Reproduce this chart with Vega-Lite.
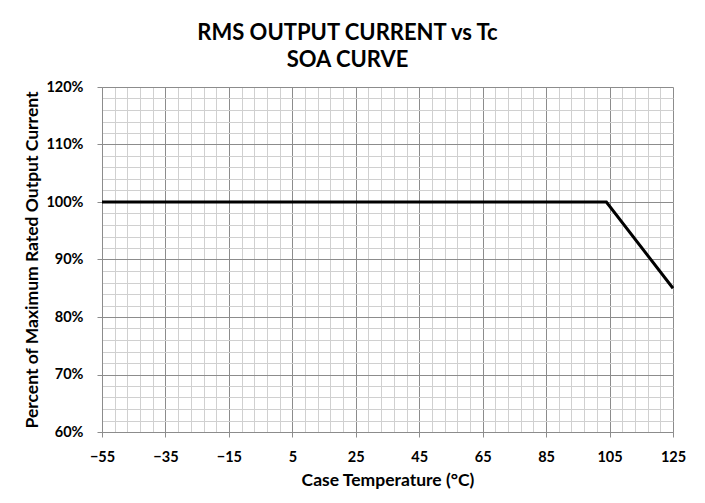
{
  "$schema": "https://vega.github.io/schema/vega-lite/v6.json",
  "width": 571,
  "height": 345,
  "autosize": "none",
  "padding": {"left": 102, "top": 87, "right": 32, "bottom": 71},
  "background": "white",
  "config": {
    "font": "Lato",
    "view": {"stroke": null},
    "axis": {"labelFont": "Lato", "titleFont": "Lato"}
  },
  "title": {
    "text": ["RMS OUTPUT CURRENT vs Tc", "SOA CURVE"],
    "font": "Lato",
    "fontSize": 22,
    "fontWeight": "bold",
    "color": "#000000",
    "anchor": "middle",
    "baseline": "alphabetic",
    "lineHeight": 27,
    "offset": 20,
    "dx": -40,
    "dy": 30
  },
  "data": {
    "values": [
      {"temp": -55, "pct": 1.0},
      {"temp": 104, "pct": 1.0},
      {"temp": 125, "pct": 0.85}
    ]
  },
  "layer": [
    {
      "mark": {"type": "line", "strokeOpacity": 0},
      "encoding": {
        "x": {
          "field": "temp", "type": "quantitative",
          "scale": {"domain": [-55, 125], "nice": false, "zero": false},
          "axis": {
            "orient": "bottom",
            "values": [-55,-51,-47,-43,-39,-35,-31,-27,-23,-19,-15,-11,-7,-3,1,5,9,13,17,21,25,29,33,37,41,45,49,53,57,61,65,69,73,77,81,85,89,93,97,101,105,109,113,117,121,125],
            "grid": true, "gridColor": "#d0d0d0", "gridWidth": 1, "gridOpacity": 1,
            "labels": false, "ticks": false, "domain": false, "title": null
          }
        },
        "y": {
          "field": "pct", "type": "quantitative",
          "scale": {"domain": [0.6, 1.2], "nice": false, "zero": false},
          "axis": {
            "orient": "left",
            "values": [0.6,0.62,0.64,0.66,0.68,0.7,0.72,0.74,0.76,0.78,0.8,0.82,0.84,0.86,0.88,0.9,0.92,0.94,0.96,0.98,1.0,1.02,1.04,1.06,1.08,1.1,1.12,1.14,1.16,1.18,1.2],
            "grid": true, "gridColor": "#d0d0d0", "gridWidth": 1, "gridOpacity": 1,
            "labels": false, "ticks": false, "domain": false, "title": null
          }
        }
      }
    },
    {
      "mark": {"type": "line", "strokeOpacity": 0},
      "encoding": {
        "x": {
          "field": "temp", "type": "quantitative",
          "scale": {"domain": [-55, 125], "nice": false, "zero": false},
          "axis": {
            "orient": "bottom",
            "values": [-55, -35, -15, 5, 25, 45, 65, 85, 105, 125],
            "grid": true, "gridColor": "#8c8c8c", "gridWidth": 1, "gridOpacity": 1,
            "domain": true, "domainColor": "#8c8c8c",
            "ticks": true, "tickColor": "#8c8c8c", "tickSize": 5,
            "labelFontSize": 14.5, "labelFontWeight": "bold", "labelColor": "#000000",
            "labelPadding": 13, "labelFlush": false, "labelOverlap": false,
            "title": "Case Temperature (°C)",
            "titleFontSize": 17.5, "titleFontWeight": "bold", "titleColor": "#000000",
            "titlePadding": 8
          }
        },
        "y": {
          "field": "pct", "type": "quantitative",
          "scale": {"domain": [0.6, 1.2], "nice": false, "zero": false},
          "axis": {
            "orient": "left",
            "values": [0.6, 0.7, 0.8, 0.9, 1.0, 1.1, 1.2],
            "format": ".0%",
            "grid": true, "gridColor": "#8c8c8c", "gridWidth": 1, "gridOpacity": 1,
            "domain": true, "domainColor": "#8c8c8c",
            "ticks": true, "tickColor": "#8c8c8c", "tickSize": 5,
            "labelFontSize": 14.5, "labelFontWeight": "bold", "labelColor": "#000000",
            "labelPadding": 14, "labelFlush": false, "labelOverlap": false,
            "title": "Percent of Maximum Rated Output Current",
            "titleFontSize": 17.5, "titleFontWeight": "bold", "titleColor": "#000000",
            "titlePadding": 4
          }
        }
      }
    },
    {
      "mark": {"type": "line", "color": "#000000", "strokeWidth": 3},
      "encoding": {
        "x": {"field": "temp", "type": "quantitative", "axis": null},
        "y": {"field": "pct", "type": "quantitative", "axis": null}
      }
    }
  ],
  "resolve": {"axis": {"x": "independent", "y": "independent"}}
}
